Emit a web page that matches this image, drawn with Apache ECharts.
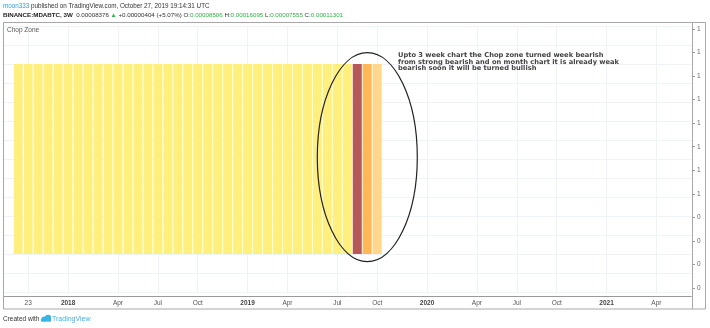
<!DOCTYPE html>
<html>
<head>
<meta charset="utf-8">
<script src="https://cdn.jsdelivr.net/npm/echarts@6/dist/echarts.min.js"></script>
<style>
  html, body { margin: 0; padding: 0; background: #fff; }
  #chart { width: 710px; height: 328px; }
</style>
</head>
<body>
<div id="chart"></div>
<script>
'use strict';

// Chop Zone, 3W bars - the histogram is always 1, the colour is the zone
var chopValues = [
  1, 1, 1, 1, 1, 1, 1, 1, 1, 1,
  1, 1, 1, 1, 1, 1, 1, 1, 1, 1,
  1, 1, 1, 1, 1, 1, 1, 1, 1, 1,
  1, 1, 1, 1, 1, 1, 1
];
var chopZones = [
  'yellow', 'yellow', 'yellow', 'yellow', 'yellow', 'yellow', 'yellow', 'yellow', 'yellow', 'yellow',
  'yellow', 'yellow', 'yellow', 'yellow', 'yellow', 'yellow', 'yellow', 'yellow', 'yellow', 'yellow',
  'yellow', 'yellow', 'yellow', 'yellow', 'yellow', 'yellow', 'yellow', 'yellow', 'yellow', 'yellow',
  'yellow', 'yellow', 'yellow', 'yellow', 'darkRed', 'orange', 'lightOrange'
];

// time scale labels, placed on bar numbers (future bars continue the scale)
var xTickBars = [1, 5, 10, 14, 18, 23, 27, 32, 36, 41, 46, 50, 54, 59, 64];
var xTickLabels = ['23', '2018', 'Apr', 'Jul', 'Oct', '2019', 'Apr', 'Jul', 'Oct', '2020', 'Apr', 'Jul', 'Oct', '2021', 'Apr'];

// price scale of the pane (as printed, rounded)
var yTickLabels = ['1', '1', '1', '1', '1', '1', '1', '1', '0', '0', '0', '0'];

var zoneColors = {
  yellow: '#fff07e',
  darkRed: '#b55858',
  orange: '#ffb855',
  lightOrange: '#ffd68c'
};

var SLOTS = 69;     // bar slots over the whole visible range
var FIRST = 1;      // slot of bar 0
var FONT = '"Liberation Sans", Arial, sans-serif';

var slotNames = [];
var barData = [];
for (var i = 0; i < SLOTS; i++) {
  slotNames.push(String(i - FIRST));
  var b = i - FIRST;
  if (b >= 0 && b < chopValues.length) {
    barData.push({ value: chopValues[b], itemStyle: { color: zoneColors[chopZones[b]] } });
  } else {
    barData.push('-');
  }
}

function isTick(index) {
  return xTickBars.indexOf(index - FIRST) >= 0;
}

var chart = echarts.init(document.getElementById('chart'));

var option = {
  animation: false,
  backgroundColor: '#fff',
  textStyle: { fontFamily: FONT },
  grid: [
    { left: 3.3, right: 18.7, top: 26, bottom: 36 },
    { left: 3.3, right: 18, top: 29, bottom: 40 }
  ],
  xAxis: [{
    type: 'category',
    gridIndex: 0,
    data: slotNames,
    offset: 4,
    axisLine: { onZero: false, lineStyle: { color: '#9a9a9a', width: 1 } },
    axisTick: { alignWithLabel: true, interval: function (idx) { return isTick(idx); }, length: 3, lineStyle: { color: '#9a9a9a' } },
    axisLabel: {
      interval: function (idx) { return isTick(idx); },
      margin: 4,
      fontSize: 6.5,
      color: '#555',
      formatter: function (val, idx) {
        var k = xTickBars.indexOf(idx - FIRST);
        if (k < 0) return '';
        var t = xTickLabels[k];
        return /^\d{4}$/.test(t) ? '{y|' + t + '}' : t;
      },
      rich: { y: { fontWeight: 'bold', fontSize: 6.5, color: '#444' } }
    },
    splitLine: {
      show: true,
      alignWithLabel: true,
      interval: function (idx) { return isTick(idx); },
      lineStyle: { color: '#eef3f7', width: 1 }
    }
  }, {
    type: 'category',
    gridIndex: 1,
    data: slotNames,
    show: false
  }],
  yAxis: [{
    type: 'value',
    gridIndex: 0,
    min: -0.2,
    max: 1.2,
    interval: 0.1,
    axisLine: { show: false },
    axisTick: { show: false },
    axisLabel: { show: false },
    splitLine: { show: true, lineStyle: { color: '#eef3f7', width: 1 } }
  }, {
    type: 'value',
    gridIndex: 1,
    position: 'right',
    inverse: true,
    min: 0,
    max: 11,
    interval: 1,
    axisLine: { show: false },
    axisTick: { show: true, length: 3, lineStyle: { color: '#999' } },
    axisLabel: {
      margin: 5,
      fontSize: 6.5,
      color: '#666',
      formatter: function (v) { return yTickLabels[v]; }
    },
    splitLine: { show: false }
  }],
  series: [{
    name: 'Chop Zone',
    type: 'bar',
    xAxisIndex: 0,
    yAxisIndex: 0,
    barWidth: 9,
    data: barData
  }],
  graphic: [
    // pane frame
    { type: 'rect', shape: { x: 3.5, y: 22.5, width: 702, height: 286.5 }, style: { fill: null, stroke: '#a8a8a8', lineWidth: 1 }, z: 10 },
    { type: 'line', shape: { x1: 692.5, y1: 22.5, x2: 692.5, y2: 309 }, style: { stroke: '#a8a8a8', lineWidth: 1 }, z: 10 },
    { type: 'text', left: 7, top: 27, z: 10, style: { text: 'Chop Zone', fontSize: 6.5, fill: '#555', fontFamily: FONT } },

    // header
    { type: 'text', left: 3, top: 3, style: {
      text: '{u|moon333} published on TradingView.com, October 27, 2019 19:14:31 UTC',
      fontSize: 6.3, fill: '#333', fontFamily: FONT,
      rich: { u: { fill: '#2a9fd8', fontSize: 6.3, fontFamily: FONT } }
    } },
    { type: 'text', left: 3, top: 12, style: {
      text: '{b|BINANCE:MDABTC, 3W}  0.00008376 {g|\u25B2} +0.00000404 (+5.07%) O:{g|0.00008506} H:{g|0.00016095} L:{g|0.00007555} C:{g|0.00011301}',
      fontSize: 6.2, fill: '#333', fontFamily: FONT,
      rich: {
        b: { fontWeight: 'bold', fontSize: 6.2, fill: '#222', fontFamily: FONT },
        g: { fill: '#2fb344', fontSize: 6.2, fontFamily: FONT }
      }
    } },

    // annotation drawn by the author
    { type: 'ellipse', shape: { cx: 367.3, cy: 157.2, rx: 50, ry: 104.5 }, style: { fill: null, stroke: '#222', lineWidth: 1.2 }, z: 20 },
    { type: 'text', left: 398, top: 52, z: 20, style: {
      text: 'Upto 3 week chart the Chop zone turned week bearish\nfrom strong bearish and on month chart it is already weak\nbearish soon it will be turned bullish',
      fontSize: 6.7, lineHeight: 6.3, fontWeight: 'bold', fill: '#444', fontFamily: '"DejaVu Sans", Verdana, sans-serif'
    } },

    // footer
    { type: 'text', left: 3, top: 316, style: { text: 'Created with', fontSize: 6.5, fill: '#333', fontFamily: FONT } },
    { type: 'circle', shape: { cx: 44, cy: 319, r: 2.6 }, style: { fill: '#3bb3e4' } },
    { type: 'circle', shape: { cx: 48, cy: 318, r: 3.2 }, style: { fill: '#3bb3e4' } },
    { type: 'rect', shape: { x: 41, y: 319, width: 10, height: 2.6 }, style: { fill: '#3bb3e4' } },
    { type: 'text', left: 52, top: 316, style: { text: 'TradingView', fontSize: 7, fill: '#3bb3e4', fontFamily: FONT } }
  ]
};

chart.setOption(option);
</script>
</body>
</html>
